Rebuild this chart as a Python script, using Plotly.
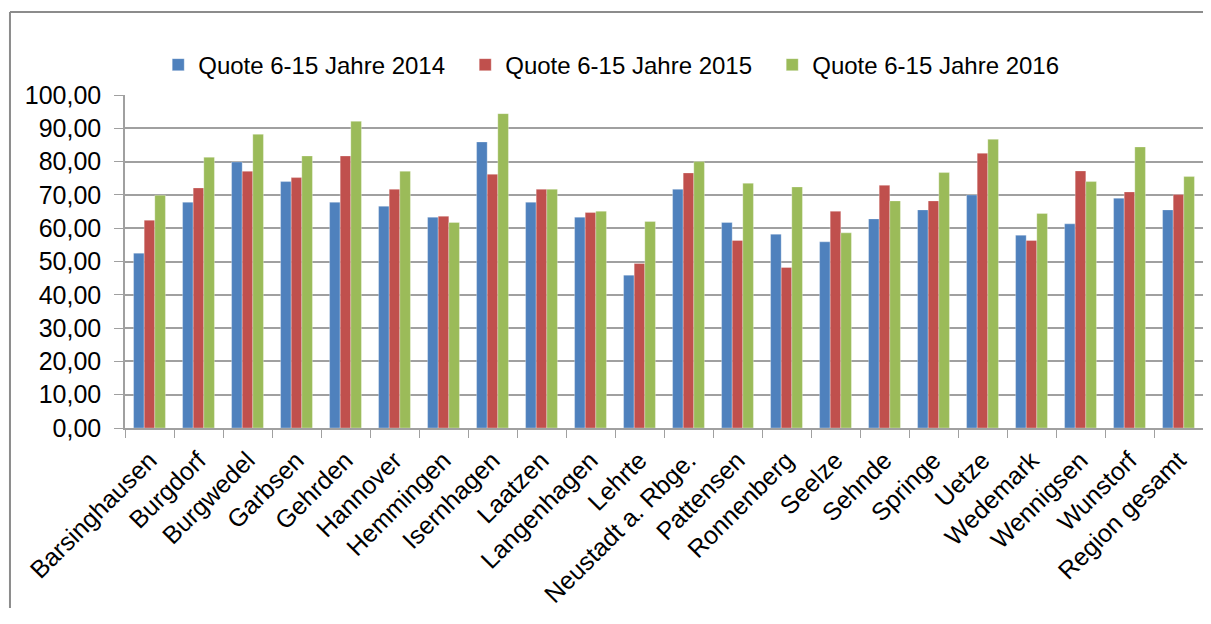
import plotly.graph_objects as go

orte = ["Barsinghausen", "Burgdorf", "Burgwedel", "Garbsen", "Gehrden", "Hannover",
        "Hemmingen", "Isernhagen", "Laatzen", "Langenhagen", "Lehrte", "Neustadt a. Rbge.",
        "Pattensen", "Ronnenberg", "Seelze", "Sehnde", "Springe", "Uetze", "Wedemark",
        "Wennigsen", "Wunstorf", "Region gesamt"]

quote_2014 = [52.5, 67.8, 79.9, 74.0, 67.8, 66.6, 63.3, 85.9, 67.8, 63.3, 45.9, 71.7,
              61.7, 58.2, 55.9, 62.8, 65.5, 70.0, 57.9, 61.3, 69.0, 65.5]
quote_2015 = [62.4, 72.1, 77.1, 75.2, 81.7, 71.7, 63.6, 76.2, 71.7, 64.7, 49.4, 76.6,
              56.3, 48.2, 65.1, 72.9, 68.2, 82.5, 56.3, 77.2, 70.9, 70.1]
quote_2016 = [69.9, 81.3, 88.2, 81.7, 92.1, 77.1, 61.7, 94.4, 71.7, 65.1, 62.0, 80.0,
              73.5, 72.4, 58.6, 68.2, 76.7, 86.7, 64.4, 74.0, 84.4, 75.5]

y_ticks = [0, 10, 20, 30, 40, 50, 60, 70, 80, 90, 100]

serien = [
    ("Quote 6-15 Jahre 2014", quote_2014, "#4F81BD"),
    ("Quote 6-15 Jahre 2015", quote_2015, "#C0504D"),
    ("Quote 6-15 Jahre 2016", quote_2016, "#9BBB59"),
]

fig = go.Figure()
for name, werte, farbe in serien:
    fig.add_trace(go.Bar(x=orte, y=werte, name=name, marker_color=farbe,
                         marker_line=dict(width=0.5, color="rgba(255,255,255,0.6)")))

# chart frame: only left and top edges are visible in the cropped original
rahmen = dict(color="#8c8c8c", width=2)

# page body has an 8px margin, so the figure is smaller than the window
fig.update_layout(
    width=1195,
    height=600,
    barmode="group",
    bargap=0.35,
    bargroupgap=0,
    separators=",.",
    plot_bgcolor="white",
    paper_bgcolor="white",
    font=dict(family="Liberation Sans, Arial", size=24, color="black"),
    margin=dict(l=117, r=0, t=87, b=180),
    legend=dict(orientation="h", x=0.458, xanchor="center", y=1.09, yanchor="middle",
                font=dict(size=24), entrywidth=262, itemwidth=30, traceorder="normal"),
    shapes=[
        dict(type="line", xref="paper", yref="paper", x0=-0.1067, x1=-0.1067,
             y0=-0.78, y1=1.249, line=rahmen, layer="below"),
        dict(type="line", xref="paper", yref="paper", x0=-0.1067, x1=1.0,
             y0=1.249, y1=1.249, line=rahmen, layer="below"),
    ],
)

fig.update_yaxes(
    range=[0, 100],
    tickvals=y_ticks,
    tickformat=".2f",
    tickfont=dict(size=25),
    showgrid=True,
    gridcolor="#a0a0a0",
    gridwidth=1.5,
    showline=True,
    linecolor="#a0a0a0",
    linewidth=1.5,
    ticks="outside",
    ticklen=9,
    tickcolor="#a0a0a0",
    ticklabelstandoff=8,
    zeroline=False,
)
fig.update_xaxes(
    tickangle=-45,
    tickfont=dict(size=25),
    showline=True,
    linecolor="#a0a0a0",
    linewidth=1.5,
    ticks="outside",
    tickson="boundaries",
    ticklen=8,
    tickcolor="#a0a0a0",
    ticklabelstandoff=6,
)

fig.write_html("out.html")
